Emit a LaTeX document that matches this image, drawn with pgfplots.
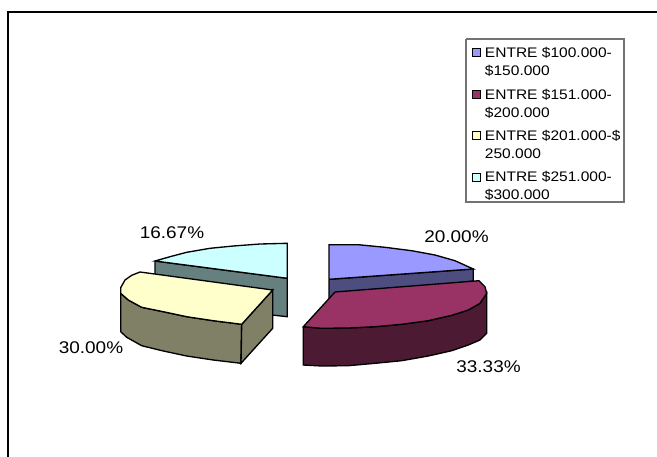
\documentclass[border=0pt]{standalone}
\usepackage{fontspec}
\setmainfont{Liberation Sans}[FakeStretch=1.12]
\usepackage{pgfplots}
\pgfplotsset{compat=1.18}
\definecolor{peri}{HTML}{9999FF}
\definecolor{plum}{HTML}{993366}
\definecolor{cream}{HTML}{FFFFCC}
\definecolor{ice}{HTML}{CCFFFF}
\definecolor{periD}{HTML}{4D4D80}
\definecolor{plumD}{HTML}{4D1A33}
\definecolor{creamD}{HTML}{808066}
\definecolor{iceD}{HTML}{668080}
\pgfplotsset{
  wall/.style={draw=black,line width=1pt,forget plot},
  top/.style={draw=black,line width=1pt},
}
\tikzset{lab/.style={font=\fontsize{12.7}{14}\selectfont,inner sep=0pt}}
\begin{document}
\begin{tikzpicture}
\useasboundingbox (0,0) rectangle (492.75pt,342.75pt);
% axis units are pixels of the reference, y pointing down
\begin{axis}[at={(0,0)},anchor=south west,scale only axis,width=492.75pt,height=342.75pt,
  xmin=0,xmax=657,ymin=0,ymax=457,y dir=reverse,hide axis,clip=false,
  legend style={at={(axis cs:470.5,43)},anchor=north west,draw=none,fill=none,
    font=\fontsize{10.4}{13.5}\selectfont,inner xsep=1pt,inner ysep=2pt,row sep=6.4pt,
    nodes={align=left,inner sep=1pt},legend cell align=left},
  legend image code/.code={\draw[#1,line width=0.8pt] (0pt,4.1pt) rectangle (6pt,10.1pt);
    \path (7.75pt,0pt);}]
% frame, only top and left edges are in the crop
\addplot[black,line width=1.9pt,forget plot] coordinates {(8,457) (8,12) (657,12)};
% legend box
\addplot[black!55,line width=1pt,forget plot] coordinates {(466,39) (624,39) (624,202) (466,202) (466,39)};
% 20.00
\addplot[wall,fill=periD] coordinates {(329,279.3) (473.3,269) (473.3,281) (329,298.3) (329,279.3)};
\addplot[top,fill=peri] coordinates {(329,279.3) (329,244.7) (358.3,244.7) (385,247.3) (411.7,250.7) (435,255) (455,260.7) (473.3,269) (329,279.3)};
% 33.33
\addplot[wall,fill=plumD] coordinates {(303.3,326.7) (303.3,365) (321.7,366) (348.3,365.7) (375,363.3) (401.7,360.7) (428.3,356) (451.7,350.7) (468.3,345) (480,340) (486.7,333.3) (486.7,293.3) (480,303.3) (468.3,310) (451.7,315.3) (428.3,320.7) (401.7,324.3) (375,326.7) (348.3,328) (321.7,328.3) (303.3,326.7)};
\addplot[top,fill=plum] coordinates {(335,292) (479,280.7) (485,286.7) (486.7,293.3) (480,303.3) (468.3,310) (451.7,315.3) (428.3,320.7) (401.7,324.3) (375,326.7) (348.3,328) (321.7,328.3) (303.3,326.7) (335,292)};
% 16.67 and 30.00 walls
\addplot[wall,fill=iceD] coordinates {(155,261) (287.3,278.3) (287.3,316.7) (272,315) (155,290) (155,261)};
\addplot[wall,fill=creamD] coordinates {(120.7,293.3) (120.7,331.7) (126.7,337.3) (141.7,345.7) (163.3,351) (186.7,356) (213.3,360) (241,363.3) (241.7,324.3) (213.3,320.7) (186.7,316.7) (163.3,311.7) (141.7,307.3) (128.3,300) (120.7,293.3)};
\addplot[wall,fill=creamD] coordinates {(241.7,324.3) (272.7,290) (272.7,328.3) (241,363.3) (241.7,324.3)};
\addplot[top,fill=cream] coordinates {(140,272) (272.7,290) (241.7,324.3) (213.3,320.7) (186.7,316.7) (163.3,311.7) (141.7,307.3) (128.3,300) (120.7,293.3) (120.7,287.7) (125,280) (131.7,275.3) (140,272)};
\addplot[top,fill=ice] coordinates {(287.3,278.3) (287.3,243.3) (260,244) (233.3,246) (210,248.3) (186.7,252.3) (170,256.7) (155,261) (287.3,278.3)};
\legend{ENTRE \$100.000-\\\$150.000,ENTRE \$151.000-\\\$200.000,ENTRE \$201.000-\$\\250.000,ENTRE \$251.000-\\\$300.000}
\node[lab] at (axis cs:456.5,237) {20.00\%};
\node[lab] at (axis cs:488.5,367) {33.33\%};
\node[lab] at (axis cs:172,233) {16.67\%};
\node[lab] at (axis cs:91,348) {30.00\%};
\end{axis}
\end{tikzpicture}
\end{document}
